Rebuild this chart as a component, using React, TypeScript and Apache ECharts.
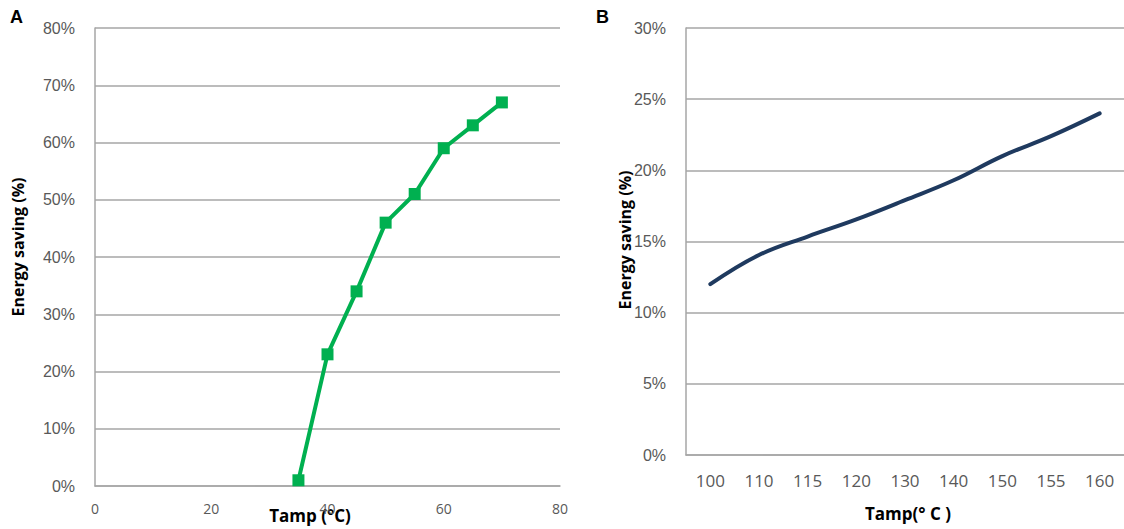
import React, { useEffect, useRef } from "react";
import * as echarts from "echarts";

// Panel A data
const tempA = [35, 40, 45, 50, 55, 60, 65, 70];
const savingA = [1, 23, 34, 46, 51, 59, 63, 67];
// Panel B data
const tempB = ["100", "110", "115", "120", "130", "140", "150", "155", "160"];
const savingB = [12, 14.05, 15.35, 16.55, 17.9, 19.3, 21.0, 22.4, 24];

const gridColor = "#a6a6a6";
const labelColor = "#595959";

export default function App() {
  const ref = useRef<HTMLDivElement>(null);
  useEffect(() => {
    document.body.style.margin = "0";
    const chart = echarts.init(ref.current!, null, { renderer: "svg" });
    chart.setOption({
      animation: false,
      backgroundColor: "#ffffff",
      grid: [
        { left: 95, top: 28, width: 465, height: 458 },
        { left: 686, top: 28, right: 0, height: 427 },
      ],
      xAxis: [
        {
          gridIndex: 0,
          type: "value",
          min: 0,
          max: 80,
          interval: 20,
          axisLine: { show: true, lineStyle: { color: gridColor, width: 1.5 } },
          axisTick: { show: false },
          splitLine: { show: false },
          axisLabel: { color: labelColor, fontFamily: "Open Sans", fontSize: 14, margin: 15 },
        },
        {
          gridIndex: 1,
          type: "category",
          data: tempB,
          boundaryGap: true,
          axisLine: { show: true, lineStyle: { color: gridColor, width: 1.5 } },
          axisTick: { show: false },
          axisLabel: { color: labelColor, fontFamily: "Open Sans", fontSize: 17, margin: 17, interval: 0 },
        },
      ],
      yAxis: [
        {
          gridIndex: 0,
          type: "value",
          min: 0,
          max: 80,
          interval: 10,
          axisLine: { show: true, lineStyle: { color: gridColor, width: 1.5 } },
          axisTick: { show: false },
          splitLine: { show: true, lineStyle: { color: gridColor, width: 1.5 } },
          axisLabel: { color: labelColor, fontFamily: "Liberation Sans", fontSize: 16, margin: 20, formatter: "{value}%" },
        },
        {
          gridIndex: 1,
          type: "value",
          min: 0,
          max: 30,
          interval: 5,
          axisLine: { show: true, lineStyle: { color: gridColor, width: 1.5 } },
          axisTick: { show: false },
          splitLine: { show: true, lineStyle: { color: gridColor, width: 1.5 } },
          axisLabel: { color: labelColor, fontFamily: "Liberation Sans", fontSize: 16, margin: 20, formatter: "{value}%" },
        },
      ],
      series: [
        {
          type: "line",
          xAxisIndex: 0,
          yAxisIndex: 0,
          data: tempA.map((t, i) => [t, savingA[i]]),
          symbol: "rect",
          symbolSize: 12,
          lineStyle: { color: "#00b050", width: 4 },
          itemStyle: { color: "#00b050" },
        },
        {
          type: "line",
          xAxisIndex: 1,
          yAxisIndex: 1,
          data: savingB,
          smooth: 0.4,
          showSymbol: false,
          lineStyle: { color: "#1f3a5f", width: 4, cap: "round" },
        },
      ],
      graphic: [
        { type: "text", left: 10, top: 8, style: { text: "A", font: "bold 18px 'Liberation Sans'", fill: "#000" } },
        { type: "text", left: 596, top: 8, style: { text: "B", font: "bold 18px 'Liberation Sans'", fill: "#000" } },
        {
          type: "text",
          x: 18,
          y: 247,
          rotation: Math.PI / 2,
          style: { text: "Energy saving (%)", font: "bold 16px 'Open Sans'", fill: "#000", align: "center", verticalAlign: "middle" },
        },
        {
          type: "text",
          x: 625,
          y: 240,
          rotation: Math.PI / 2,
          style: { text: "Energy saving (%)", font: "bold 16px 'Open Sans'", fill: "#000", align: "center", verticalAlign: "middle" },
        },
        {
          type: "text",
          x: 310,
          y: 515,
          style: { text: "Tamp (°C)", font: "bold 17px 'Open Sans'", fill: "#000", align: "center", verticalAlign: "middle" },
        },
        {
          type: "text",
          x: 908,
          y: 513,
          style: { text: "Tamp(° C )", font: "bold 17px 'Open Sans'", fill: "#000", align: "center", verticalAlign: "middle" },
        },
      ],
    });
    return () => chart.dispose();
  }, []);
  return <div ref={ref} style={{ width: 1124, height: 529 }} />;
}
